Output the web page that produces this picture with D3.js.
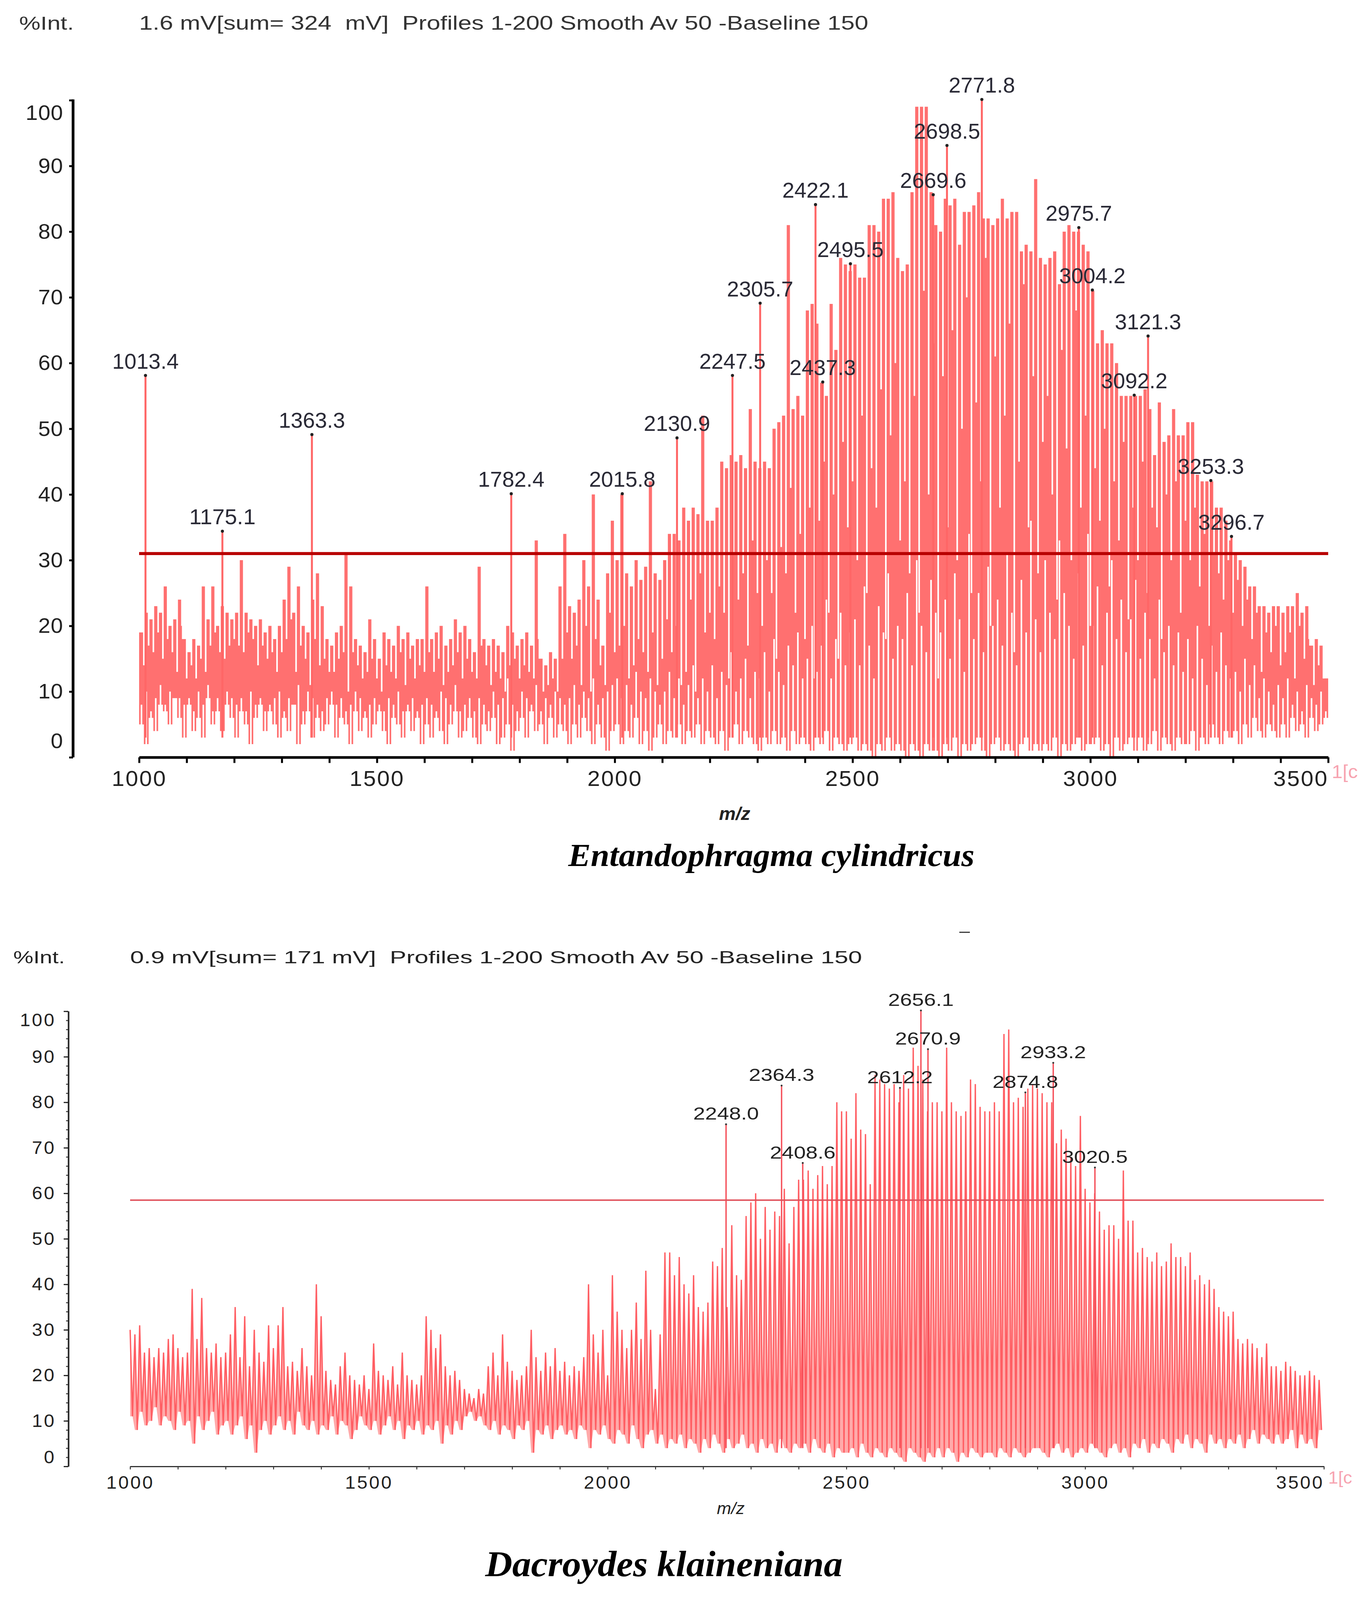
<!DOCTYPE html>
<html lang="en">
<head>
<meta charset="UTF-8">
<title>MALDI-TOF spectra</title>
<script src="https://d3js.org/d3.v7.min.js"></script>
<style>
  html, body { margin: 0; background: #fff; overflow: hidden; }
  svg { display: block; width: 100vw; height: 100vh; }
  text { font-family: "Liberation Sans", Arial, sans-serif; }
  .species { font-family: "Liberation Serif", "Times New Roman", serif; font-style: italic; font-weight: bold; fill: #000; }
</style>
</head>
<body>
<svg id="chart" viewBox="0 0 3506 4215" preserveAspectRatio="none"></svg>
<script>
// ---------- top spectrum (Entandophragma cylindricus), one column per 10 m/z from 1000
const topHi = [
  19, 22, 21, 23, 22, 26, 20, 21, 24, 18,
  16, 18, 17, 26, 21, 26, 20, 23, 22, 21,
  22, 30, 22, 21, 20, 21, 19, 20, 18, 20,
  24, 29, 22, 26, 20, 19, 24, 28, 23, 18,
  17, 19, 20, 31, 26, 18, 17, 16, 21, 18,
  15, 19, 18, 17, 20, 18, 19, 17, 18, 18,
  26, 18, 19, 20, 17, 18, 21, 19, 20, 18,
  16, 29, 18, 17, 18, 17, 16, 20, 19, 17,
  18, 19, 17, 33, 15, 14, 16, 15, 26, 34,
  23, 22, 24, 30, 26, 40, 24, 17, 28, 36,
  30, 40, 28, 26, 30, 27, 29, 42, 28, 27,
  30, 34, 34, 33, 38, 36, 38, 37, 52, 36,
  36, 38, 45, 44, 46, 45, 46, 44, 53, 45,
  44, 45, 44, 50, 51, 52, 81, 53, 55, 52,
  68, 69, 66, 57, 55, 69, 62, 76, 75, 74,
  75, 73, 73, 81, 81, 80, 85, 85, 86, 76,
  74, 75, 86, 99, 99, 99, 86, 81, 80, 85,
  84, 85, 78, 83, 83, 84, 86, 82, 82, 81,
  82, 85, 82, 83, 83, 77, 78, 77, 88, 76,
  75, 76, 77, 72, 80, 81, 80, 80, 78, 77,
  71, 63, 65, 63, 63, 60, 55, 55, 55, 55,
  55, 56, 53, 46, 54, 48, 49, 53, 49, 49,
  51, 51, 43, 42, 42, 42, 38, 38, 36, 33,
  31, 30, 29, 26, 26, 23, 23, 22, 23, 23,
  22, 23, 23, 25, 22, 23, 17, 18, 17, 12
];
// depth of the narrow white gap after each column
const topDip = [
  14, 17, 16, 19, 15, 18, 16, 13, 20, 12,
  14, 12, 15, 13, 17, 19, 16, 15, 17, 18,
  17, 16, 19, 18, 14, 17, 15, 16, 13, 16,
  18, 21, 13, 17, 15, 11, 18, 14, 15, 13,
  13, 15, 16, 10, 16, 14, 12, 13, 15, 12,
  10, 14, 13, 12, 16, 11, 15, 12, 14, 13,
  16, 13, 15, 11, 13, 14, 16, 12, 15, 13,
  12, 17, 14, 11, 13, 12, 10, 14, 15, 12,
  14, 13, 12, 18, 10, 11, 12, 10, 15, 19,
  15, 17, 11, 20, 10, 18, 14, 11, 22, 16,
  17, 20, 12, 14, 18, 16, 13, 19, 11, 15,
  21, 16, 20, 11, 13, 24, 10, 28, 19, 22,
  18, 26, 22, 12, 31, 24, 28, 17, 33, 25,
  20, 30, 25, 15, 32, 28, 41, 22, 34, 18,
  38, 12, 36, 45, 22, 40, 15, 48, 35, 42,
  30, 52, 25, 44, 38, 56, 18, 49, 60, 33,
  42, 28, 55, 22, 71, 40, 63, 12, 58, 35,
  65, 30, 50, 70, 25, 54, 42, 76, 20, 61,
  38, 52, 66, 16, 45, 72, 35, 58, 28, 48,
  55, 40, 24, 62, 47, 30, 68, 38, 52, 20,
  44, 36, 50, 26, 42, 33, 48, 21, 38, 30,
  45, 25, 38, 35, 18, 40, 30, 42, 22, 36,
  30, 38, 26, 34, 20, 31, 28, 24, 30, 22,
  27, 20, 24, 18, 22, 13, 19, 16, 20, 14,
  16, 19, 12, 20, 15, 18, 11, 14, 12, 8
];
// lower edge of each column
const topLo = [
  5, 2, 6, 4, 8, 7, 5, 9, 6, 3,
  8, 4, 6, 3, 9, 5, 7, 4, 8, 6,
  3, 7, 5, 2, 6, 8, 4, 7, 5, 3,
  6, 4, 8, 2, 5, 7, 3, 6, 4, 5,
  8, 3, 6, 5, 2, 7, 4, 6, 3, 5,
  7, 4, 2, 6, 5, 3, 7, 4, 6, 2,
  5, 3, 6, 4, 2, 5, 7, 3, 4, 6,
  3, 2, 5, 4, 6, 2, 3, 5, 1, 4,
  6, 3, 7, 4, 5, 2, 6, 3, 5, 4,
  2, 5, 3, 6, 4, 2, 5, 3, 1, 4,
  5, 2, 4, 3, 6, 2, 4, 1, 3, 5,
  2, 4, 3, 5, 2, 4, 3, 5, 2, 4,
  3, 2, 4, 1, 3, 5, 2, 4, 3, 2,
  1, 3, 2, 4, 2, 3, 1, 4, 2, 3,
  2, 1, 3, 2, 4, 1, 3, 2, 1, 2,
  3, 1, 2, 1, 0, 2, 1, 3, 1, 2,
  1, 0, 2, 1, 0, 2, 1, 1, 0, 2,
  1, 3, 0, 2, 1, 2, 3, 1, 0, 2,
  3, 1, 2, 1, 0, 2, 3, 1, 2, 1,
  2, 1, 3, 0, 2, 1, 2, 3, 1, 2,
  2, 3, 1, 2, 0, 3, 1, 2, 3, 1,
  3, 1, 2, 4, 1, 3, 2, 1, 3, 2,
  2, 4, 1, 3, 2, 5, 3, 2, 4, 3,
  4, 2, 5, 3, 6, 4, 3, 5, 4, 3,
  5, 3, 6, 4, 5, 3, 6, 4, 5, 6
];
// height of the white gaps rising from the bottom
const topRise = [
  8, 10, 7, 9, 11, 8, 10, 7, 9, 8,
  9, 7, 10, 8, 11, 7, 9, 8, 10, 9,
  8, 9, 7, 10, 8, 9, 7, 8, 9, 10,
  7, 9, 8, 11, 7, 10, 9, 8, 7, 9,
  10, 8, 9, 7, 8, 10, 9, 7, 8, 9,
  8, 7, 9, 8, 10, 7, 8, 9, 7, 8,
  9, 8, 7, 10, 9, 8, 11, 7, 8, 9,
  7, 9, 8, 7, 10, 8, 9, 12, 8, 7,
  10, 9, 8, 11, 7, 9, 8, 10, 9, 8,
  9, 11, 8, 10, 9, 12, 8, 9, 10, 11,
  12, 9, 11, 8, 13, 10, 9, 12, 10, 8,
  10, 13, 9, 12, 8, 11, 14, 9, 12, 10,
  14, 9, 13, 11, 16, 10, 12, 15, 9, 13,
  12, 16, 10, 18, 13, 11, 17, 14, 19, 12,
  15, 20, 13, 17, 24, 12, 18, 22, 14, 19,
  21, 14, 26, 17, 12, 23, 19, 28, 15, 20,
  18, 25, 14, 30, 20, 16, 27, 22, 19, 24,
  15, 28, 21, 13, 34, 18, 25, 16, 29, 20,
  24, 17, 31, 22, 14, 27, 19, 36, 21, 16,
  30, 22, 18, 33, 25, 20, 15, 28, 17, 34,
  20, 26, 14, 22, 30, 18, 24, 16, 21, 27,
  15, 22, 18, 12, 24, 16, 20, 14, 19, 13,
  18, 12, 20, 15, 11, 17, 13, 19, 14, 12,
  13, 10, 15, 11, 14, 9, 12, 10, 8, 11,
  9, 12, 8, 10, 7, 11, 9, 8, 10, 7
];
const topPeakMz  = [1013.4, 1175.1, 1363.3, 1782.4, 2015.8, 2130.9, 2247.5, 2305.7, 2422.1, 2437.3,
                    2495.5, 2669.6, 2698.5, 2771.8, 2975.7, 3004.2, 3092.2, 3121.3, 3253.3, 3296.7];
const topPeakInt = [58, 34.3, 49, 40, 40, 48.5, 58, 69, 84, 57,
                    75, 85.5, 93, 100, 80.5, 71, 55, 64, 42, 33.5];
const topThreshold = 31;

// ---------- bottom spectrum (Dacroydes klaineniana), one oscillation per 10 m/z from 1000
const botHi = [
  30, 29, 31, 25, 26, 24, 26, 25, 28, 29,
  26, 24, 25, 39, 28, 37, 26, 25, 27, 24,
  25, 29, 35, 24, 33, 22, 30, 25, 23, 31,
  26, 31, 35, 22, 23, 21, 26, 22, 20, 40,
  33, 21, 19, 18, 22, 25, 20, 19, 18, 20,
  17, 27, 21, 20, 19, 22, 18, 25, 20, 19,
  18, 20, 33, 30, 26, 29, 22, 20, 21, 19,
  17, 16, 15, 17, 16, 22, 25, 20, 29, 23,
  21, 19, 20, 22, 30, 24, 21, 25, 22, 26,
  21, 23, 20, 22, 21, 24, 40, 29, 25, 30,
  20, 42, 34, 30, 26, 30, 36, 28, 43, 30,
  17, 29, 47, 47, 42, 46, 40, 38, 42, 35,
  34, 36, 45, 44, 48, 35, 53, 42, 41, 55,
  58, 60, 50, 57, 52, 56, 55, 61, 49, 57,
  63, 63, 65, 61, 64, 66, 62, 66, 80, 78,
  78, 72, 82, 74, 73, 62, 86, 85, 84, 83,
  84, 80, 86, 83, 92, 88, 85, 78, 80, 80,
  78, 92, 80, 78, 77, 78, 85, 84, 79, 78,
  78, 80, 78, 95, 96, 80, 81, 79, 83, 84,
  83, 82, 80, 80, 71, 74, 72, 68, 66, 77,
  61, 58, 60, 56, 52, 53, 53, 50, 65, 54,
  54, 47, 48, 46, 45, 47, 44, 45, 49, 46,
  46, 44, 47, 41, 42, 40, 41, 39, 35, 34,
  33, 34, 28, 27, 28, 27, 26, 24, 27, 22,
  22, 21, 23, 22, 21, 20, 20, 21, 20, 19
];
const botLo = [
  11, 8, 12, 9, 10, 13, 9, 11, 10, 8,
  12, 9, 10, 5, 11, 8, 10, 12, 7, 9,
  10, 7, 9, 11, 6, 9, 3, 8, 10, 7,
  9, 11, 8, 10, 7, 12, 9, 8, 10, 7,
  9, 8, 11, 7, 10, 9, 6, 8, 11, 9,
  8, 10, 7, 9, 11, 8, 10, 6, 9, 8,
  10, 7, 9, 8, 10, 5, 9, 7, 10, 8,
  11, 12, 10, 11, 9, 8, 10, 7, 9, 8,
  6, 9, 8, 10, 3, 8, 7, 9, 6, 8,
  9, 7, 8, 6, 9, 8, 4, 8, 7, 9,
  6, 5, 8, 7, 5, 9, 6, 4, 7, 8,
  5, 7, 4, 6, 5, 7, 4, 6, 5, 3,
  6, 4, 7, 5, 3, 6, 4, 5, 7, 4,
  5, 3, 6, 4, 5, 3, 6, 4, 3, 5,
  4, 5, 3, 6, 4, 3, 5, 2, 4, 3,
  3, 4, 2, 5, 3, 2, 4, 3, 2, 4,
  3, 2, 1, 4, 3, 2, 1, 3, 2, 4,
  2, 4, 3, 1, 3, 2, 4, 3, 2, 3,
  3, 2, 4, 3, 2, 4, 3, 2, 3, 4,
  4, 3, 2, 4, 5, 3, 4, 2, 3, 4,
  3, 5, 4, 3, 2, 4, 5, 3, 4, 2,
  5, 4, 6, 3, 5, 4, 6, 5, 3, 6,
  5, 7, 4, 6, 5, 3, 7, 5, 6, 4,
  6, 5, 7, 4, 6, 8, 5, 7, 6, 5,
  7, 5, 6, 8, 4, 7, 5, 6, 4, 8
];
const botPeakMz  = [2248.0, 2364.3, 2408.6, 2612.2, 2656.1, 2670.9, 2874.8, 2933.2, 3020.5];
const botPeakInt = [75, 83.5, 66.5, 83, 100, 91.5, 82, 88.5, 65.5];
const botThreshold = 58.5;

// shared axis values
const mzStart = 1000, mzEnd = 3500, mzStep = 10;
const mzGrid = d3.range(mzStart, mzEnd, mzStep);
const xTickValues = d3.range(1000, 3501, 100);
const yTickValues = d3.range(0, 101, 10);
const fmt = d3.format(".1f");

const svg = d3.select("#chart");
svg.append("rect").attr("width", 3506).attr("height", 4215).attr("fill", "#fff");

// =============== TOP PANEL ===============
const xTop = d3.scaleLinear().domain([mzStart, mzEnd]).range([356, 3399]);
const yTop = d3.scaleLinear().domain([0, 100]).range([1995, 264]);
const gTop = svg.append("g");

const topCols = mzGrid.map((m, i) => ({ mz: m, hi: topHi[i], lo: topLo[i] }));
topCols.push({ mz: mzEnd, hi: topHi[topHi.length - 1], lo: topLo[topLo.length - 1] });

gTop.append("path")
    .datum(topCols)
    .attr("fill", "#ff7070")
    .attr("d", d3.area().curve(d3.curveStepAfter)
        .x(d => xTop(d.mz)).y0(d => yTop(d.lo)).y1(d => yTop(d.hi)));

// narrow gaps cut from the top down
gTop.append("g").selectAll("rect")
    .data(mzGrid.slice(0, -1))
    .join("rect")
    .attr("x", m => xTop(m + mzStep) - 2)
    .attr("width", 4)
    .attr("y", yTop(100) - 10)
    .attr("height", (m, i) => yTop(topDip[i]) - yTop(100) + 10)
    .attr("fill", "#fff");

// narrow gaps rising from the bottom
gTop.append("g").selectAll("rect")
    .data(mzGrid)
    .join("rect")
    .attr("x", m => xTop(m + mzStep / 2) - 2)
    .attr("width", 4)
    .attr("y", (m, i) => yTop(topRise[i]))
    .attr("height", (m, i) => yTop(0) - yTop(topRise[i]))
    .attr("fill", "#fff");

// annotated peaks
gTop.append("g").selectAll("line")
    .data(topPeakMz)
    .join("line")
    .attr("x1", m => xTop(m)).attr("x2", m => xTop(m))
    .attr("y1", yTop(3))
    .attr("y2", (m, i) => yTop(topPeakInt[i]))
    .attr("stroke", "#ff6666")
    .attr("stroke-width", 5);

// threshold
gTop.append("line")
    .attr("x1", xTop(mzStart)).attr("x2", xTop(mzEnd))
    .attr("y1", yTop(topThreshold)).attr("y2", yTop(topThreshold))
    .attr("stroke", "#b80000")
    .attr("stroke-width", 8);

gTop.append("g").selectAll("circle")
    .data(topPeakMz)
    .join("circle")
    .attr("cx", m => xTop(m))
    .attr("cy", (m, i) => yTop(topPeakInt[i]) - 2)
    .attr("r", 4)
    .attr("fill", "#222");

gTop.append("g").selectAll("text")
    .data(topPeakMz)
    .join("text")
    .attr("x", m => xTop(m))
    .attr("y", (m, i) => yTop(topPeakInt[i]) - 20)
    .attr("text-anchor", "middle")
    .attr("font-size", 58)
    .attr("textLength", 170)
    .attr("lengthAdjust", "spacingAndGlyphs")
    .attr("fill", "#2a2a36")
    .text(m => fmt(m));

// axes
const topYAxis = gTop.append("g")
    .attr("transform", "translate(187,0)")
    .call(d3.axisLeft(yTop).tickValues(yTickValues).tickSize(10).tickPadding(15).tickSizeOuter(0));
topYAxis.select(".domain").attr("stroke", "#000").attr("stroke-width", 7)
    .attr("d", `M0,${yTop(100) - 2}V${yTop(0)}`);
topYAxis.selectAll(".tick line").attr("stroke", "#000").attr("stroke-width", 5);
topYAxis.selectAll(".tick text")
    .attr("font-size", 56).attr("fill", "#222").attr("letter-spacing", 1)
    .attr("font-family", "Liberation Sans, Arial, sans-serif")
    .attr("dy", d => d === 0 ? "-0.44em" : d === 100 ? "0.92em" : "0.32em");

const topXAxis = gTop.append("g")
    .attr("transform", `translate(0,${yTop(0)})`)
    .call(d3.axisBottom(xTop).tickValues(xTickValues).tickSize(15).tickPadding(19).tickSizeOuter(0)
        .tickFormat(d => d % 500 === 0 ? d : ""));
topXAxis.select(".domain").attr("stroke", "#000").attr("stroke-width", 7);
topXAxis.selectAll(".tick line").attr("stroke", "#000").attr("stroke-width", 5);
topXAxis.selectAll(".tick text")
    .attr("font-size", 58).attr("fill", "#222").attr("letter-spacing", 3)
    .attr("font-family", "Liberation Sans, Arial, sans-serif")
    .attr("text-anchor", d => d === mzEnd ? "end" : "middle");

// header and titles
gTop.append("text").attr("x", 49).attr("y", 78).attr("font-size", 50)
    .attr("textLength", 140).attr("lengthAdjust", "spacingAndGlyphs")
    .attr("fill", "#333").text("%Int.");
gTop.append("text").attr("x", 356).attr("y", 78).attr("font-size", 52)
    .attr("textLength", 1866).attr("lengthAdjust", "spacingAndGlyphs")
    .attr("fill", "#333").style("white-space", "pre")
    .text("1.6 mV[sum= 324  mV]  Profiles 1-200 Smooth Av 50 -Baseline 150");
gTop.append("text").attr("x", 1880).attr("y", 2160).attr("text-anchor", "middle")
    .attr("font-size", 48).attr("font-weight", "bold").attr("font-style", "italic")
    .attr("fill", "#222").text("m/z");
gTop.append("text").attr("x", 3408).attr("y", 2050).attr("font-size", 50)
    .attr("fill", "#f7a3b0").text("1[c");
gTop.append("text").attr("class", "species").attr("x", 1974).attr("y", 2281)
    .attr("text-anchor", "middle").attr("font-size", 86)
    .text("Entandophragma cylindricus");

// small stray mark between the panels
svg.append("line").attr("x1", 2455).attr("x2", 2482).attr("y1", 2456).attr("y2", 2456)
    .attr("stroke", "#333").attr("stroke-width", 3);

// =============== BOTTOM PANEL ===============
const xBot = d3.scaleLinear().domain([mzStart, mzEnd]).range([333, 3388]);
const yBot = d3.scaleLinear().domain([0, 100]).range([3863, 2664]);
const gBot = svg.append("g");

// zig-zag profile: up to the peak, down to the trough half a step later
const zig = [];
mzGrid.forEach((m, i) => {
    zig.push({ mz: m, v: botHi[i], base: botLo[i] });
    zig.push({ mz: m + mzStep / 2, v: botLo[i], base: botLo[i] });
});

gBot.append("path")
    .datum(zig)
    .attr("fill", "#ffaaaa")
    .attr("d", d3.area().x(d => xBot(d.mz)).y0(d => yBot(d.base)).y1(d => yBot(d.v)));

gBot.append("path")
    .datum(zig)
    .attr("fill", "none")
    .attr("stroke", "#ff5e63")
    .attr("stroke-width", 3.4)
    .attr("d", d3.line().x(d => xBot(d.mz)).y(d => yBot(d.v)));

gBot.append("g").selectAll("line")
    .data(botPeakMz)
    .join("line")
    .attr("x1", m => xBot(m)).attr("x2", m => xBot(m))
    .attr("y1", yBot(4))
    .attr("y2", (m, i) => yBot(botPeakInt[i]))
    .attr("stroke", "#f5505a")
    .attr("stroke-width", 3.5);

gBot.append("line")
    .attr("x1", xBot(mzStart)).attr("x2", xBot(mzEnd))
    .attr("y1", yBot(botThreshold)).attr("y2", yBot(botThreshold))
    .attr("stroke", "#e0505a")
    .attr("stroke-width", 4);

gBot.append("g").selectAll("circle")
    .data(botPeakMz)
    .join("circle")
    .attr("cx", m => xBot(m))
    .attr("cy", (m, i) => yBot(botPeakInt[i]) - 2)
    .attr("r", 2.5)
    .attr("fill", "#333");

gBot.append("g").selectAll("text")
    .data(botPeakMz)
    .join("text")
    .attr("x", m => xBot(m))
    .attr("y", (m, i) => yBot(botPeakInt[i]) - 14)
    .attr("text-anchor", "middle")
    .attr("font-size", 46)
    .attr("textLength", 168)
    .attr("lengthAdjust", "spacingAndGlyphs")
    .attr("fill", "#222")
    .text(m => fmt(m));

// axes
gBot.append("g")
    .attr("transform", "translate(175,0)")
    .call(d3.axisLeft(yBot).tickValues(d3.range(0, 101, 2)).tickSize(6).tickSizeOuter(0).tickFormat(""))
    .call(g => g.select(".domain").remove())
    .call(g => g.selectAll(".tick line").attr("stroke", "#333").attr("stroke-width", 2.5));

const botYAxis = gBot.append("g")
    .attr("transform", "translate(175,0)")
    .call(d3.axisLeft(yBot).tickValues(yTickValues).tickSize(12).tickPadding(20).tickSizeOuter(0));
botYAxis.select(".domain").attr("stroke", "#222").attr("stroke-width", 4);
botYAxis.selectAll(".tick line").attr("stroke", "#222").attr("stroke-width", 3);
botYAxis.selectAll(".tick text")
    .attr("font-size", 48).attr("fill", "#222").attr("letter-spacing", 4)
    .attr("font-family", "Liberation Sans, Arial, sans-serif")
    .attr("dy", d => d === 0 ? "-0.18em" : d === 100 ? "0.8em" : "0.32em");

const botXAxis = gBot.append("g")
    .attr("transform", `translate(0,${yBot(0)})`)
    .call(d3.axisBottom(xBot).tickValues(xTickValues).tickSize(8).tickPadding(17).tickSizeOuter(0)
        .tickFormat(d => d % 500 === 0 ? d : ""));
botXAxis.select(".domain").attr("stroke", "#333").attr("stroke-width", 3);
botXAxis.selectAll(".tick line").attr("stroke", "#333").attr("stroke-width", 2.5);
botXAxis.selectAll(".tick text")
    .attr("font-size", 48).attr("fill", "#222").attr("letter-spacing", 4)
    .attr("font-family", "Liberation Sans, Arial, sans-serif")
    .attr("text-anchor", d => d === mzEnd ? "end" : "middle");

gBot.append("text").attr("x", 34).attr("y", 2538).attr("font-size", 46)
    .attr("textLength", 132).attr("lengthAdjust", "spacingAndGlyphs")
    .attr("fill", "#222").text("%Int.");
gBot.append("text").attr("x", 333).attr("y", 2538).attr("font-size", 46)
    .attr("textLength", 1873).attr("lengthAdjust", "spacingAndGlyphs")
    .attr("fill", "#222").style("white-space", "pre")
    .text("0.9 mV[sum= 171 mV]  Profiles 1-200 Smooth Av 50 -Baseline 150");
gBot.append("text").attr("x", 1870).attr("y", 3989).attr("text-anchor", "middle")
    .attr("font-size", 44).attr("font-style", "italic")
    .attr("fill", "#222").text("m/z");
gBot.append("text").attr("x", 3399).attr("y", 3908).attr("font-size", 46)
    .attr("fill", "#f7a3b0").text("1[c");
gBot.append("text").attr("class", "species").attr("x", 1699).attr("y", 4152)
    .attr("text-anchor", "middle").attr("font-size", 96)
    .text("Dacroydes klaineniana");
</script>
</body>
</html>
